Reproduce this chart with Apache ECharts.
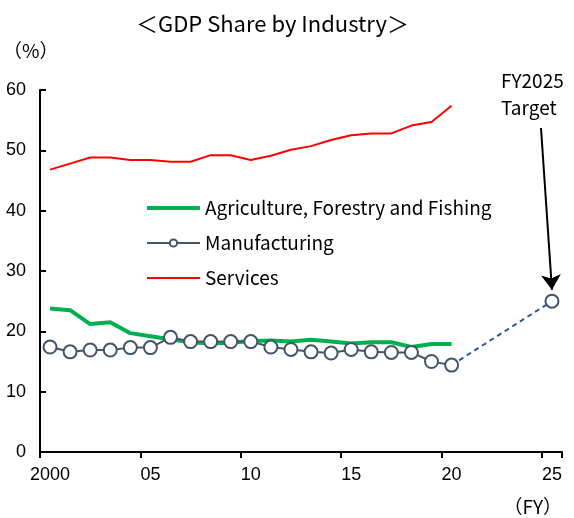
<!DOCTYPE html>
<html><head><meta charset="utf-8">
<script src="https://cdn.jsdelivr.net/npm/echarts@6/dist/echarts.min.js"></script>
<style>html,body{margin:0;padding:0;background:#fff}#c{width:574px;height:518px}</style>
</head><body><div id="c"></div>
<script>
const years = ['2000','2001','2002','2003','2004','2005','2006','2007','2008','2009','2010','2011','2012','2013','2014','2015','2016','2017','2018','2019','2020','2021','2022','2023','2024','2025'];
const tickLabels = ['2000','05','10','15','20','25'];
const agriculture = [23.8,23.5,21.2,21.5,19.7,19.2,18.7,18.2,18.0,18.1,18.4,18.5,18.3,18.6,18.3,18.0,18.2,18.2,17.4,17.9,17.9,null,null,null,null,null];
const manufacturing = [17.4,16.6,16.9,16.9,17.3,17.3,19.0,18.3,18.3,18.3,18.3,17.4,17.0,16.6,16.4,17.0,16.6,16.5,16.5,15.0,14.4,null,null,null,null,null];
const services = [46.8,47.8,48.8,48.8,48.4,48.4,48.1,48.1,49.2,49.2,48.4,49.1,50.1,50.7,51.7,52.5,52.8,52.8,54.1,54.7,57.4,null,null,null,null,null];
const target = [null,null,null,null,null,null,null,null,null,null,null,null,null,null,null,null,null,null,null,null,14.4,null,null,null,null,25.0];
const names = ['Agriculture, Forestry and Fishing','Manufacturing','Services'];

const CJK = '"Noto Sans CJK JP", "Noto Sans", sans-serif';
const NUM = '"Liberation Sans", Arial, sans-serif';
const chart = echarts.init(document.getElementById('c'));
chart.setOption({
  animation: false,
  backgroundColor: '#fff',
  grid: {left: 40, right: 12, top: 90, bottom: 66, containLabel: false, outerBoundsMode: 'none'},
  legend: {
    data: [
      {name: names[0], itemStyle: {opacity: 0}, lineStyle: {width: 4}},
      {name: names[1]},
      {name: names[2], itemStyle: {opacity: 0}}
    ],
    orient: 'vertical', left: 140, top: 193,
    itemWidth: 53, itemHeight: 9, itemGap: 15,
    textStyle: {fontFamily: CJK, fontSize: 19, color: '#000', lineHeight: 20}
  },
  graphic: [
    {type: 'text', left: 136, top: 13, style: {text: '＜GDP Share by Industry＞', font: '22px ' + CJK, fill: '#000'}},
    {type: 'text', left: 3, top: 41, style: {text: '（%）', font: '19px ' + CJK, fill: '#000'}},
    {type: 'text', right: 12, top: 497, style: {text: '（FY）', font: '19px ' + CJK, fill: '#000'}},
    {type: 'text', left: 501, top: 67, style: {text: 'FY2025\nTarget', font: '19px ' + CJK, fill: '#000', align: 'center', lineHeight: 27}, x: 36}
  ],
  xAxis: {
    type: 'category', data: years, boundaryGap: true,
    axisLine: {show: true, lineStyle: {color: '#000', width: 2}},
    axisTick: {show: true, interval: 4, inside: false, length: 6, lineStyle: {color: '#000', width: 2}},
    axisLabel: {interval: 4, margin: 14, color: '#000', fontFamily: NUM, fontSize: 18,
      formatter: (v, i) => (i % 5 === 0 ? tickLabels[i / 5] : '')},
    splitLine: {show: false}
  },
  yAxis: {
    type: 'value', min: 0, max: 60, interval: 10,
    axisLine: {show: true, lineStyle: {color: '#000', width: 2}},
    axisTick: {show: true, inside: true, length: 6, lineStyle: {color: '#000', width: 2}},
    axisLabel: {margin: 14, color: '#000', fontFamily: NUM, fontSize: 18},
    splitLine: {show: false}
  },
  series: [
    {name: names[2], type: 'line', data: services, symbol: 'none', z: 2,
      lineStyle: {color: '#ff0000', width: 2}, itemStyle: {color: '#ff0000'}},
    {name: names[0], type: 'line', data: agriculture, symbol: 'none', z: 3,
      lineStyle: {color: '#00b050', width: 4}, itemStyle: {color: '#00b050'}},
    {name: 'target', type: 'line', data: target, connectNulls: true, z: 4,
      symbol: (v, p) => (p.dataIndex === 25 ? 'circle' : 'none'), symbolSize: 13,
      lineStyle: {color: '#2f5597', width: 2, type: [5, 4]},
      itemStyle: {color: '#fff', borderColor: '#44546a', borderWidth: 2},
      markLine: {
        silent: true, symbol: ['none', 'arrow'], symbolSize: 15,
        lineStyle: {color: '#000', width: 2, type: 'solid'}, label: {show: false},
        data: [[{x: 541, y: 128}, {coord: ['2025', 26.9]}]]
      }},
    {name: names[1], type: 'line', data: manufacturing, symbol: 'circle', symbolSize: 13, z: 5,
      lineStyle: {color: '#44546a', width: 2},
      itemStyle: {color: '#fff', borderColor: '#44546a', borderWidth: 2}}
  ]
});
</script></body></html>
